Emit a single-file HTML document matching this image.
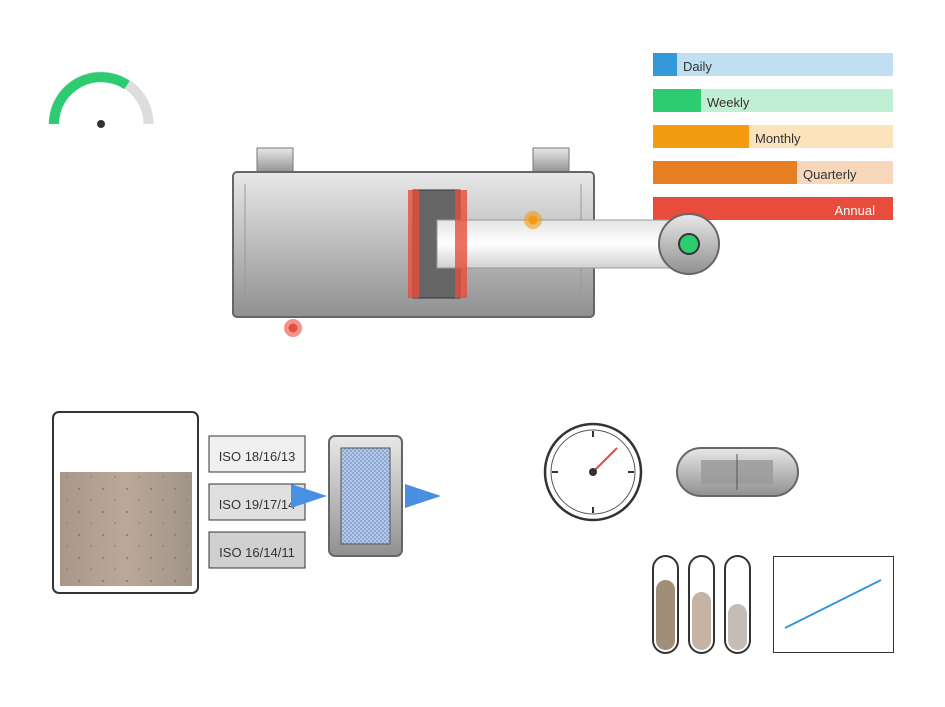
<!DOCTYPE html>
<html><head><style>body{margin:0;background:#fff}</style></head><body>
<svg width="945" height="702" xmlns="http://www.w3.org/2000/svg" font-family="Liberation Sans, sans-serif">
<defs>
<linearGradient id="g1" x1="0" y1="0" x2="0" y2="1"><stop offset="0" stop-color="#e8e8e8"/><stop offset="1" stop-color="#909090"/></linearGradient>
<linearGradient id="rod" x1="0" y1="0" x2="0" y2="1"><stop offset="0" stop-color="#e4e4e4"/><stop offset="0.5" stop-color="#fff"/><stop offset="1" stop-color="#d0d0d0"/></linearGradient>
<linearGradient id="sand" x1="0" y1="0" x2="1" y2="0"><stop offset="0" stop-color="#a8978a"/><stop offset="0.5" stop-color="#bba898"/><stop offset="1" stop-color="#a09488"/></linearGradient>
<pattern id="dots" width="24" height="23" patternUnits="userSpaceOnUse"><circle cx="7" cy="6" r="1.2" fill="#7a6a60"/><circle cx="19" cy="17" r="1" fill="#8a7a70"/></pattern>
<pattern id="chk" width="4" height="4" patternUnits="userSpaceOnUse"><rect width="4" height="4" fill="#b8c8e0"/><rect width="2" height="2" fill="#8aa8d8"/><rect x="2" y="2" width="2" height="2" fill="#8aa8d8"/></pattern>
</defs>
<path d="M53.5,124 A47.5,47.5 0 0 1 148.5,124" fill="none" stroke="#ddd" stroke-width="10"/>
<path d="M54,124 A47,47 0 0 1 127,85" fill="none" stroke="#2ecc71" stroke-width="10"/>
<circle cx="101" cy="124" r="4" fill="#333"/>
<g font-size="13" fill="#333">
<rect x="653" y="53" width="240" height="23" fill="#c0dff3"/><rect x="653" y="53" width="24" height="23" fill="#3498db"/><text x="683" y="71">Daily</text>
<rect x="653" y="89" width="240" height="23" fill="#c1efd3"/><rect x="653" y="89" width="48" height="23" fill="#2ecc71"/><text x="707" y="107">Weekly</text>
<rect x="653" y="125" width="240" height="23" fill="#fbe4bc"/><rect x="653" y="125" width="96" height="23" fill="#f39c12"/><text x="755" y="143">Monthly</text>
<rect x="653" y="161" width="240" height="23" fill="#f8d8bd"/><rect x="653" y="161" width="144" height="23" fill="#e67e22"/><text x="803" y="179">Quarterly</text>
<rect x="653" y="197" width="240" height="23" fill="#e74c3c"/><text x="875" y="215" fill="#fff" text-anchor="end">Annual</text>
</g>
<rect x="257" y="148" width="36" height="25" fill="url(#g1)" stroke="#777"/>
<rect x="533" y="148" width="36" height="25" fill="url(#g1)" stroke="#777"/>
<rect x="233" y="172" width="361" height="145" rx="4" fill="url(#g1)" stroke="#666" stroke-width="2"/>
<line x1="245" y1="184" x2="245" y2="305" stroke="#999"/><line x1="581" y1="184" x2="581" y2="305" stroke="#999"/>
<rect x="413" y="190" width="47" height="108" fill="#666" stroke="#333"/>
<rect x="437" y="220" width="245" height="48" fill="url(#rod)" stroke="#999"/>
<rect x="408" y="190" width="11" height="108" fill="#e74c3c" opacity="0.8"/>
<rect x="455" y="190" width="12" height="108" fill="#e74c3c" opacity="0.8"/>
<circle cx="689" cy="244" r="30" fill="url(#g1)" stroke="#666" stroke-width="2"/>
<circle cx="689" cy="244" r="10" fill="#2ecc71" stroke="#333" stroke-width="2"/>
<circle cx="689" cy="244" r="5" fill="#2ecc71"/>
<circle cx="533" cy="220" r="9" fill="#f39c12" opacity="0.6"/><circle cx="533" cy="220" r="4.5" fill="#f39c12"/>
<circle cx="293" cy="328" r="9" fill="#e74c3c" opacity="0.6"/><circle cx="293" cy="328" r="4.5" fill="#e74c3c"/>
<rect x="53" y="412" width="145" height="181" rx="6" fill="#fff" stroke="#333" stroke-width="2"/>
<rect x="60" y="472" width="132" height="114" fill="url(#sand)"/>
<rect x="60" y="472" width="132" height="114" fill="url(#dots)" opacity="0.6"/>
<g font-size="13" fill="#333">
<rect x="209" y="436" width="96" height="36" fill="#f0f0f0" stroke="#333"/><text x="257" y="461" text-anchor="middle">ISO 18/16/13</text>
<rect x="209" y="484" width="96" height="36" fill="#e0e0e0" stroke="#333"/><text x="257" y="509" text-anchor="middle">ISO 19/17/14</text>
<rect x="209" y="532" width="96" height="36" fill="#d0d0d0" stroke="#333"/><text x="257" y="557" text-anchor="middle">ISO 16/14/11</text>
</g>
<rect x="329" y="436" width="73" height="120" rx="6" fill="url(#g1)" stroke="#666" stroke-width="2"/>
<rect x="341" y="448" width="49" height="96" fill="url(#chk)" stroke="#555"/>
<polygon points="291,484 327,496 291,508" fill="#4a90e2"/>
<polygon points="405,484 441,496 405,508" fill="#4a90e2"/>
<circle cx="593" cy="472" r="48" fill="#fff" stroke="#333" stroke-width="2.5"/>
<circle cx="593" cy="472" r="42" fill="none" stroke="#555" stroke-width="1"/>
<g stroke="#333" stroke-width="2"><line x1="593" y1="431" x2="593" y2="437"/><line x1="593" y1="507" x2="593" y2="513"/><line x1="552" y1="472" x2="558" y2="472"/><line x1="628" y1="472" x2="634" y2="472"/></g>
<line x1="593" y1="472" x2="617" y2="448" stroke="#e74c3c" stroke-width="2"/>
<circle cx="593" cy="472" r="4" fill="#333"/>
<rect x="677" y="448" width="121" height="48" rx="24" fill="url(#g1)" stroke="#666" stroke-width="2"/>
<rect x="701" y="460" width="72" height="24" fill="#999" opacity="0.8"/>
<line x1="737" y1="454" x2="737" y2="490" stroke="#555"/>
<rect x="653" y="556" width="25" height="97" rx="12.5" fill="#fff" stroke="#333" stroke-width="2"/>
<rect x="656" y="580" width="19" height="70" rx="9.5" fill="#a08e78"/>
<rect x="689" y="556" width="25" height="97" rx="12.5" fill="#fff" stroke="#333" stroke-width="2"/>
<rect x="692" y="592" width="19" height="58" rx="9.5" fill="#c6b3a3"/>
<rect x="725" y="556" width="25" height="97" rx="12.5" fill="#fff" stroke="#333" stroke-width="2"/>
<rect x="728" y="604" width="19" height="46" rx="9.5" fill="#c4bdb7"/>
<rect x="773.5" y="556.5" width="120" height="96" fill="#fff" stroke="#333"/>
<line x1="785" y1="628" x2="881" y2="580" stroke="#3498db" stroke-width="2"/>
</svg>
</body></html>
